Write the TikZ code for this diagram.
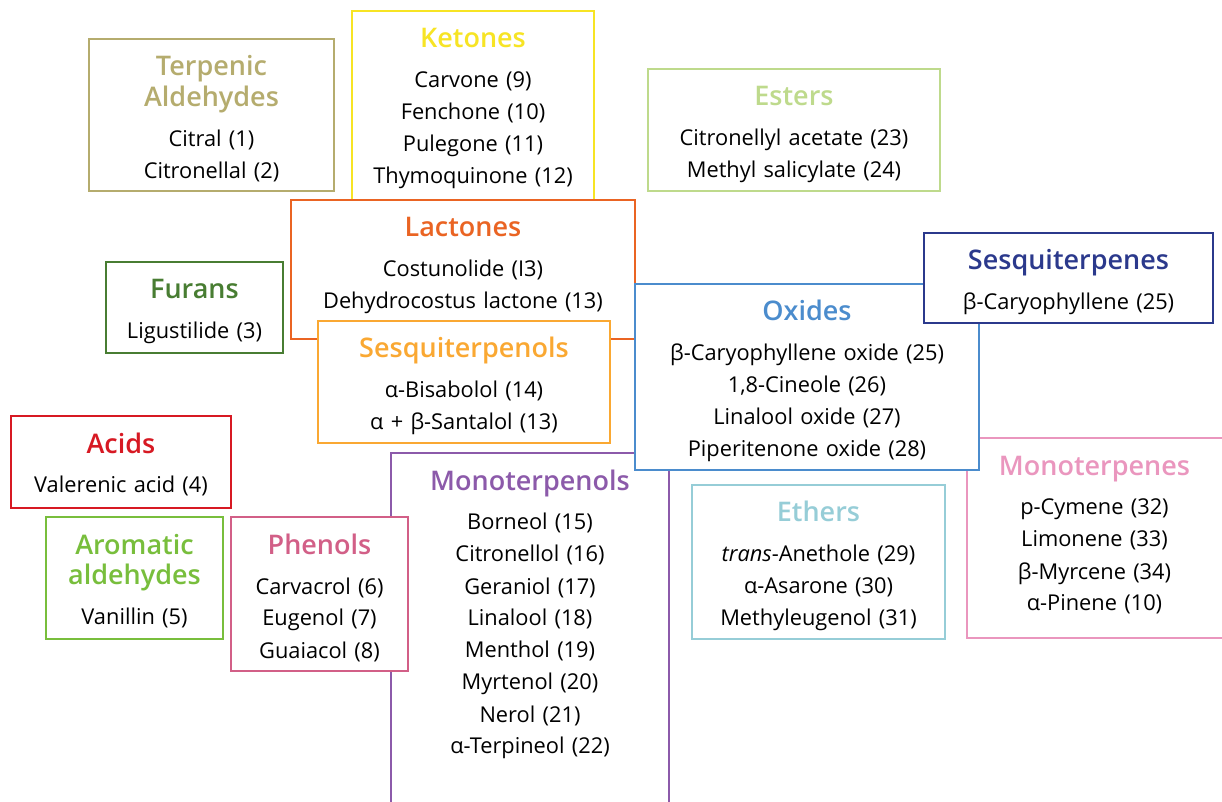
\documentclass[tikz,border=0pt]{standalone}
\usepackage{fontspec}
\setmainfont{Open Sans}
\IfFontExistsTF{Open Sans Semibold}{%
  \newfontfamily\titlefont{Open Sans Semibold}\newcommand\titlesize{13.5pt}}{%
  \IfFontExistsTF{Open Sans SemiBold}{%
    \newfontfamily\titlefont{Open Sans SemiBold}\newcommand\titlesize{13.5pt}}{%
    \newcommand\titlefont{\bfseries}\newcommand\titlesize{13.2pt}}}
\usetikzlibrary{fit}
\definecolor{terc}{HTML}{B5AC6E}
\definecolor{ketc}{HTML}{F7E424}
\definecolor{estc}{HTML}{BEDA8C}
\definecolor{furc}{HTML}{487D32}
\definecolor{lacc}{HTML}{EA6423}
\definecolor{sqolc}{HTML}{FAA832}
\definecolor{molc}{HTML}{8C5AAA}
\definecolor{mtec}{HTML}{EA96BE}
\definecolor{oxic}{HTML}{4B8CCD}
\definecolor{sqec}{HTML}{2B398C}
\definecolor{ethc}{HTML}{96CDD7}
\definecolor{acic}{HTML}{D71923}
\definecolor{aroc}{HTML}{78BE3C}
\definecolor{phec}{HTML}{D25F87}
\newcommand\cattitle[2]{{\color{#1}\fontsize{\titlesize}{15.3pt}\titlefont\selectfont #2\par}\vskip4pt}
\begin{document}
\begin{tikzpicture}[x=0.5pt,y=-0.5pt,
  catbox/.style={draw=#1, line width=1pt, fill=white, inner sep=0pt},
  cattext/.style={text width=190pt, align=center, anchor=base, inner sep=0pt,
    font=\fontsize{10.9pt}{16pt}\selectfont, yshift=-19pt}]
\useasboundingbox (0,0) rectangle (1222,802);

% Terpenic aldehydes
\node[catbox=terc, fit={(89,39) (334,191)}] (ter) {};
\node[cattext] (terT) at (ter.north) {\cattitle{terc}{Terpenic\\Aldehydes}Citral (1)\\Citronellal (2)};

% Ketones
\node[catbox=ketc, fit={(352,11) (594,215)}] (ket) {};
\node[cattext] (ketT) at (ket.north) {\cattitle{ketc}{Ketones}Carvone (9)\\Fenchone (10)\\Pulegone (11)\\Thymoquinone (12)};

% Esters
\node[catbox=estc, fit={(648,69) (940,191)}] (est) {};
\node[cattext] (estT) at (est.north) {\cattitle{estc}{Esters}Citronellyl acetate (23)\\Methyl salicylate (24)};

% Furans
\node[catbox=furc, fit={(106,262) (283,353)}] (fur) {};
\node[cattext] (furT) at (fur.north) {\cattitle{furc}{Furans}Ligustilide (3)};

% Lactones
\node[catbox=lacc, fit={(291,200) (635,339)}] (lac) {};
\node[cattext] (lacT) at (lac.north) {\cattitle{lacc}{Lactones}Costunolide (I3)\\Dehydrocostus lactone (13)};

% Sesquiterpenols
\node[catbox=sqolc, fit={(318,321) (610,443)}] (sqol) {};
\node[cattext] (sqolT) at (sqol.north) {\cattitle{sqolc}{Sesquiterpenols}α-Bisabolol (14)\\α + β-Santalol (13)};

% Monoterpenols
\node[catbox=molc, fit={(391,453) (669,830)}] (mol) {};
\node[cattext] (molT) at (mol.north) {\cattitle{molc}{Monoterpenols}Borneol (15)\\Citronellol (16)\\Geraniol (17)\\Linalool (18)\\Menthol (19)\\Myrtenol (20)\\Nerol (21)\\α-Terpineol (22)};

% Monoterpenes
\node[catbox=mtec, fit={(967,438) (1240,638)}] (mte) {};
\node[cattext, xshift=-4.5pt] (mteT) at (mte.north) {\cattitle{mtec}{Monoterpenes}p-Cymene (32)\\Limonene (33)\\β-Myrcene (34)\\α-Pinene (10)};

% Oxides
\node[catbox=oxic, fit={(635,284) (979,470)}] (oxi) {};
\node[cattext] (oxiT) at (oxi.north) {\cattitle{oxic}{Oxides}β-Caryophyllene oxide (25)\\1,8-Cineole (26)\\Linalool oxide (27)\\Piperitenone oxide (28)};

% Sesquiterpenes
\node[catbox=sqec, fit={(924,233) (1213,323)}] (sqe) {};
\node[cattext] (sqeT) at (sqe.north) {\cattitle{sqec}{Sesquiterpenes}β-Caryophyllene (25)};

% Ethers
\node[catbox=ethc, fit={(692,485) (945,639)}] (eth) {};
\node[cattext] (ethT) at (eth.north) {\cattitle{ethc}{Ethers}\textit{trans}-Anethole (29)\\α-Asarone (30)\\Methyleugenol (31)};

% Acids
\node[catbox=acic, fit={(11,416) (231,508)}] (aci) {};
\node[cattext] (aciT) at (aci.north) {\cattitle{acic}{Acids}Valerenic acid (4)};

% Aromatic aldehydes
\node[catbox=aroc, fit={(46,517) (223,639)}] (aro) {};
\node[cattext] (aroT) at (aro.north) {\cattitle{aroc}{Aromatic\\aldehydes}Vanillin (5)};

% Phenols
\node[catbox=phec, fit={(231,517) (408,671)}] (phe) {};
\node[cattext] (pheT) at (phe.north) {\cattitle{phec}{Phenols}Carvacrol (6)\\Eugenol (7)\\Guaiacol (8)};
\end{tikzpicture}
\end{document}
